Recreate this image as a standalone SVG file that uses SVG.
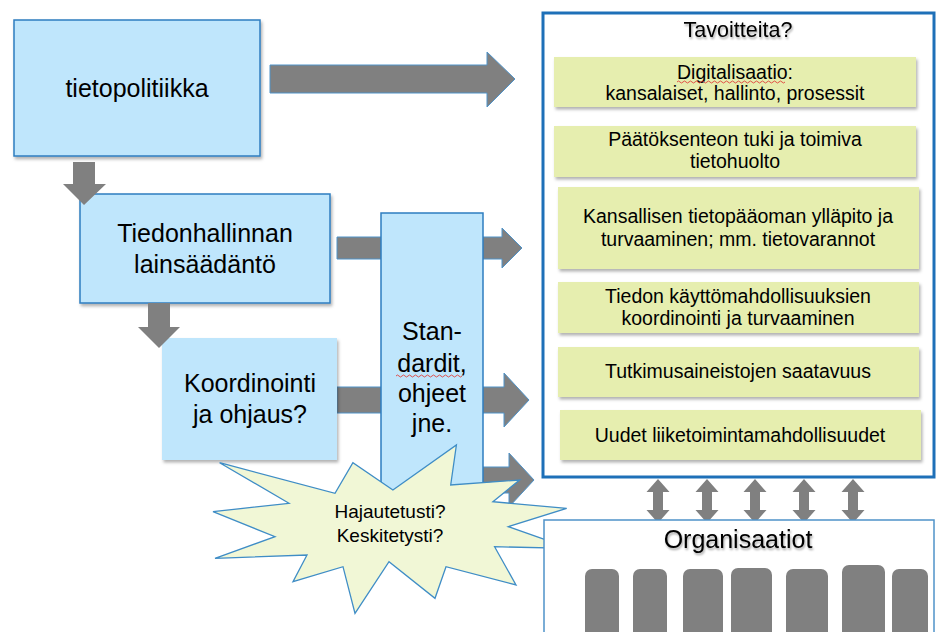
<svg xmlns="http://www.w3.org/2000/svg" width="936" height="632" viewBox="0 0 936 632">
<defs>
<filter id="sh" x="-10%" y="-10%" width="130%" height="140%"><feDropShadow dx="1.5" dy="2.5" stdDeviation="1.5" flood-color="#000" flood-opacity="0.3"/></filter>
<filter id="tsh" x="-10%" y="-30%" width="130%" height="170%"><feDropShadow dx="1" dy="2" stdDeviation="1.3" flood-color="#000" flood-opacity="0.35"/></filter>
</defs>
<style>
.t{font-family:"Liberation Sans",Arial,sans-serif;fill:#000;text-anchor:middle}
.big{font-size:25px}
.mid{font-size:19.5px}
.blue{fill:#bfe6fc;stroke:#2e7dc0;stroke-width:1.5}
.green{fill:#e6eeaf}
.arr{fill:#808080;stroke:#4f93c9;stroke-width:1}
.darr{fill:#808080}
.gr{fill:#808080}
.wave{fill:none;stroke:#e0403a;stroke-width:0.9}
</style>
<rect width="936" height="632" fill="#fff"/>

<g id="connectors">
<polygon class="arr" points="270,65 487,65 487,52 515,79 487,107 487,93 270,93"/>
<polygon class="arr" points="337,237 502,237 502,228 522,248 502,268 502,259 337,259"/>
<polygon class="arr" points="337,387 504,387 504,373 529,400 504,427 504,413 337,413"/>
<polygon class="arr" points="470,467 509,467 509,453 534,480 509,507 509,493 470,493"/>
</g>

<g id="tietopolitiikka">
<rect class="blue" x="14" y="20" width="246" height="136" filter="url(#sh)"/>
<text class="t big" x="137" y="97">tietopolitiikka</text>
</g>

<g id="tiedonhallinnan">
<rect class="blue" x="80" y="194" width="250" height="109" filter="url(#sh)"/>
<text class="t big" x="205" y="242">Tiedonhallinnan</text>
<text class="t big" x="205" y="273">lainsäädäntö</text>
</g>

<g id="koordinointi">
<rect x="162" y="338" width="175" height="122" fill="#bfe6fc" filter="url(#sh)"/>
<text class="t big" x="250" y="392">Koordinointi</text>
<text class="t big" x="250" y="423">ja ohjaus?</text>
</g>

<g id="down-arrows">
<polygon class="darr" points="73,162 95,162 95,184 106,184 84,205 63,184 73,184"/>
<polygon class="darr" points="148,303 170,303 170,327 180,327 159,348 138,327 148,327"/>
</g>

<g id="standardit">
<rect class="blue" x="381" y="213" width="102" height="300"/>
<text class="t big" x="432" y="340">Stan-</text>
<text class="t big" x="432" y="372">dardit,</text>
<text class="t big" x="432" y="402">ohjeet</text>
<text class="t big" x="432" y="432">jne.</text>
<path class="wave" d="M396,376 q1.5,-2 3,0 t3,0 t3,0 t3,0 t3,0 t3,0 t3,0 t3,0 t3,0 t3,0 t3,0 t3,0 t3,0 t3,0 t3,0 t3,0 t3,0 t3,0 t3,0 t3,0 t3,0 t3,0"/>
</g>

<g id="starburst">
<polygon fill="#f1f7d6" stroke="#3f8dc6" stroke-width="1.3" points="219.6,462.7 335,493.3 352.9,462.7 392.9,490 456.4,445 450.7,485 519.6,480 492.9,501.7 566.7,508.3 508.3,526.7 570,548.3 494.6,546.7 516,585 446,566.7 435,598.3 389,561.7 355,613.3 343,566.7 293,581.7 307,555 215,558.3 275,536.7 213,511.7 289,503.3"/>
<text class="t" style="font-size:19px" x="390" y="518">Hajautetusti?</text>
<text class="t" style="font-size:19px" x="390" y="542">Keskitetysti?</text>
</g>

<g id="tavoitteita">
<rect x="543" y="13" width="391" height="464" fill="#fff" stroke="#1e70b8" stroke-width="3"/>
<text class="t" style="font-size:21.5px" x="738" y="37" filter="url(#tsh)">Tavoitteita?</text>
</g>

<g id="goal1">
<rect class="green" x="554" y="57" width="362" height="50" filter="url(#sh)"/>
<text class="t mid" x="735" y="79">Digitalisaatio:</text>
<text class="t mid" x="735" y="100">kansalaiset, hallinto, prosessit</text>
<path class="wave" d="M677,82 q1.5,-2 3,0 t3,0 t3,0 t3,0 t3,0 t3,0 t3,0 t3,0 t3,0 t3,0 t3,0 t3,0 t3,0 t3,0 t3,0 t3,0 t3,0 t3,0 t3,0 t3,0 t3,0 t3,0 t3,0 t3,0 t3,0 t3,0 t3,0 t3,0 t3,0 t3,0 t3,0 t3,0 t3,0 t3,0 t3,0 t3,0"/>
</g>
<g id="goal2">
<rect class="green" x="554" y="126" width="362" height="51" filter="url(#sh)"/>
<text class="t mid" x="735" y="146">Päätöksenteon tuki ja toimiva</text>
<text class="t mid" x="735" y="168">tietohuolto</text>
</g>
<g id="goal3">
<rect class="green" x="558" y="187" width="361" height="82" filter="url(#sh)"/>
<text class="t mid" x="738" y="223">Kansallisen tietopääoman ylläpito ja</text>
<text class="t mid" x="738" y="246">turvaaminen; mm. tietovarannot</text>
</g>
<g id="goal4">
<rect class="green" x="558" y="282" width="361" height="51" filter="url(#sh)"/>
<text class="t mid" x="738" y="303">Tiedon käyttömahdollisuuksien</text>
<text class="t mid" x="738" y="325">koordinointi ja turvaaminen</text>
</g>
<g id="goal5">
<rect class="green" x="558" y="347" width="361" height="50" filter="url(#sh)"/>
<text class="t mid" x="738" y="378">Tutkimusaineistojen saatavuus</text>
</g>
<g id="goal6">
<rect class="green" x="560" y="410" width="361" height="50" filter="url(#sh)"/>
<text class="t mid" x="740" y="442">Uudet liiketoimintamahdollisuudet</text>
</g>

<g id="double-arrows">
<polygon class="darr" points="658,479 669.5,492 663,492 663,510 669.5,510 658,523 646.5,510 653,510 653,492 646.5,492"/>
<polygon class="darr" points="707,479 718.5,492 712,492 712,510 718.5,510 707,523 695.5,510 702,510 702,492 695.5,492"/>
<polygon class="darr" points="755,479 766.5,492 760,492 760,510 766.5,510 755,523 743.5,510 750,510 750,492 743.5,492"/>
<polygon class="darr" points="804,479 815.5,492 809,492 809,510 815.5,510 804,523 792.5,510 799,510 799,492 792.5,492"/>
<polygon class="darr" points="853,479 864.5,492 858,492 858,510 864.5,510 853,523 841.5,510 848,510 848,492 841.5,492"/>
</g>

<g id="organisaatiot">
<rect x="544" y="520" width="390" height="130" fill="#fff" stroke="#4f93c9" stroke-width="1.5"/>
<text class="t big" x="738" y="548" filter="url(#tsh)">Organisaatiot</text>
<rect class="gr" x="585" y="569" width="34" height="80" rx="7"/>
<rect class="gr" x="633" y="569" width="34" height="80" rx="7"/>
<rect class="gr" x="683" y="569" width="40" height="80" rx="7"/>
<rect class="gr" x="731" y="568" width="41" height="80" rx="7"/>
<rect class="gr" x="786" y="569" width="42" height="80" rx="7"/>
<rect class="gr" x="842" y="565" width="43" height="80" rx="7"/>
<rect class="gr" x="892" y="569" width="36" height="80" rx="7"/>
</g>
</svg>
